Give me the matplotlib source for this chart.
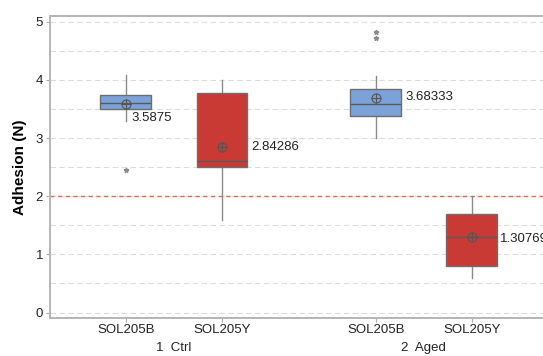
import numpy as np
import matplotlib.pyplot as plt

# box statistics
groups = ['1  Ctrl', '2  Aged']
samples = ['SOL205B', 'SOL205Y', 'SOL205B', 'SOL205Y']
positions = [1, 2, 3.6, 4.6]
q1 = [3.5, 2.5, 3.38, 0.8]
med = [3.6, 2.6, 3.58, 1.3]
q3 = [3.75, 3.78, 3.84, 1.7]
whislo = [3.3, 1.6, 3.0, 0.6]
whishi = [4.08, 4.0, 4.07, 2.0]
means = [3.5875, 2.84286, 3.68333, 1.30769]
mean_labels = ['3.5875', '2.84286', '3.68333', '1.30769']
fliers = [[2.45], [], [4.73, 4.82], []]
ref_line = 2.0

colors = ['#7ba3da', '#c93a35', '#7ba3da', '#c93a35']

plt.rcParams['font.family'] = ['Liberation Sans', 'DejaVu Sans']

fig = plt.figure(figsize=(5.43, 3.56), dpi=100)
ax = fig.add_axes([0.092, 0.108, 0.915, 0.847])

stats = []
for i in range(len(samples)):
    stats.append(dict(med=med[i], q1=q1[i], q3=q3[i], whislo=whislo[i],
                      whishi=whishi[i], fliers=fliers[i], mean=means[i]))

bp = ax.bxp(stats, positions=positions, widths=0.53, patch_artist=True,
            showcaps=False, showmeans=False, showfliers=True,
            boxprops=dict(edgecolor='#6e6e6e', linewidth=1.0),
            medianprops=dict(color='#5a5a5a', linewidth=1.0),
            whiskerprops=dict(color='#8a8a8a', linewidth=1.0),
            flierprops=dict(marker='*', markersize=3.5, markerfacecolor='#8a8a8a',
                            markeredgecolor='#8a8a8a'))
for patch, c in zip(bp['boxes'], colors):
    patch.set_facecolor(c)
    patch.set_zorder(3)
for line in bp['medians']:
    line.set_zorder(4)
for w in bp['whiskers']:
    w.set_zorder(2)

# mean symbols (circle with cross)
ax.plot(positions, means, 'o', ms=6.5, mfc='none', mec='#555555', mew=0.8, zorder=5)
ax.plot(positions, means, '+', ms=6.5, color='#555555', mew=0.8, zorder=5)

offsets = [(-14, -10), (3, 0), (3, 1), (2, -2)]
for p, m, lab, off in zip(positions, means, mean_labels, offsets):
    ax.annotate(lab, xy=(p + 0.265, m), xytext=off, textcoords='offset points',
                ha='left', va='center', fontsize=9.5, color='#222222')

ax.axhline(ref_line, color='#e06a4a', linestyle=(0, (3, 2.5)), linewidth=1.0, zorder=1)

ax.set_ylim(-0.086, 5.1)
ax.set_xlim(0.21, 5.38)
ax.set_yticks(np.arange(0, 6, 1))
ax.set_yticks(np.arange(0, 5.5, 0.5), minor=True)
ax.grid(axis='y', which='both', color='#dcdcdc', linestyle=(0, (5, 3)), linewidth=0.8)
ax.set_axisbelow(True)

ax.set_xticks(positions)
ax.set_xticklabels(samples, fontsize=9)
ax.tick_params(axis='y', which='minor', length=0)
ax.tick_params(axis='both', which='major', color='#aaaaaa', length=3, labelsize=9.5,
               labelcolor='#222222', pad=2)
ax.set_ylabel('Adhesion (N)', fontsize=11, fontweight='bold', labelpad=6)

for name in ['left', 'bottom', 'top']:
    ax.spines[name].set_color('#b5b5b5')
    ax.spines[name].set_linewidth(1.4)
ax.spines['right'].set_visible(False)

for g, (a, b) in zip(groups, [(positions[0], positions[1]), (positions[2], positions[3])]):
    ax.text((a + b) / 2, -0.1, g, transform=ax.get_xaxis_transform(),
            ha='center', va='center', fontsize=9.5, color='#222222')

fig.savefig('out.png', dpi=100)
